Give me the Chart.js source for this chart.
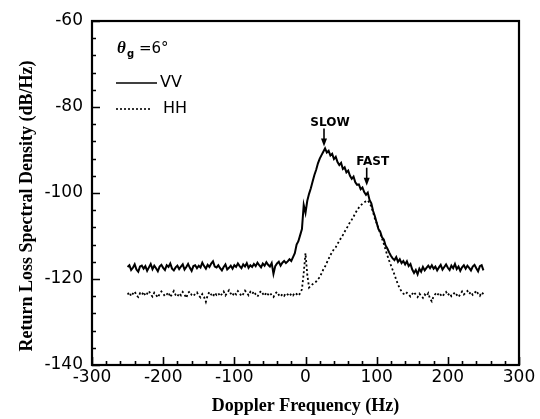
<!DOCTYPE html>
<html><head><meta charset="utf-8">
<script src="https://cdn.jsdelivr.net/npm/chart.js@4.4.0/dist/chart.umd.min.js"></script>
<style>html,body{margin:0;padding:0;background:#fff;}#wrap{width:540px;height:419px;}</style>
</head><body><div id="wrap"><canvas id="c" width="540" height="419"></canvas></div>
<script>
// Doppler frequency grid (Hz): first bin and bin spacing
const freqStart = -250;
const freqStep = 2.5;

// VV return loss spectral density (dB/Hz), one value per bin from -250 to 250 Hz
const vvDensity = [
-117.2,-116.8,-117.9,-117.4,-116.6,-117.8,-118.3,-117.1,-116.9,-117.6,
-117.0,-118.1,-117.3,-116.5,-117.7,-116.9,-117.5,-118.2,-117.1,-116.7,
-117.4,-117.9,-116.8,-117.2,-116.4,-117.6,-118.0,-117.3,-116.9,-117.7,
-117.1,-116.6,-117.8,-117.2,-116.5,-117.4,-118.1,-117.0,-116.8,-117.5,
-116.9,-117.3,-116.2,-117.0,-117.6,-116.7,-117.2,-116.4,-115.9,-117.1,
-117.3,-116.8,-117.5,-118.0,-117.2,-116.6,-117.8,-117.4,-116.9,-117.6,
-116.8,-117.2,-116.4,-117.0,-117.5,-116.6,-117.1,-116.3,-117.4,-116.8,
-117.2,-116.5,-117.0,-116.2,-116.8,-117.3,-116.4,-116.9,-116.1,-116.7,
-117.1,-116.3,-118.8,-117.0,-116.4,-116.0,-116.9,-116.2,-115.8,-116.3,
-115.9,-115.4,-115.8,-114.9,-114.0,-112.0,-111.2,-109.8,-108.4,-102.8,
-104.6,-101.8,-100.2,-98.9,-97.3,-95.8,-94.6,-93.1,-92.0,-91.2,
-90.4,-89.6,-90.6,-90.2,-91.3,-90.9,-92.1,-91.6,-92.8,-93.5,
-93.0,-94.4,-94.0,-95.2,-94.8,-96.0,-96.7,-96.2,-97.5,-98.1,
-98.0,-99.1,-98.7,-99.8,-100.4,-99.9,-101.6,-102.4,-104.2,-105.4,
-106.9,-108.4,-109.0,-110.3,-110.8,-112.2,-112.9,-113.8,-114.6,-115.2,
-115.6,-114.9,-116.0,-115.4,-116.3,-115.8,-116.6,-115.9,-117.0,-116.5,
-117.8,-118.6,-117.9,-118.9,-117.6,-118.3,-117.2,-118.0,-117.4,-116.9,
-117.5,-116.8,-117.6,-117.1,-118.0,-117.3,-116.7,-117.8,-117.2,-116.6,
-117.4,-117.9,-116.9,-117.5,-116.5,-117.7,-117.1,-118.1,-117.3,-116.8,
-117.6,-116.9,-117.4,-118.0,-117.1,-116.7,-117.5,-118.2,-117.0,-116.8,
-118.0
];

// HH return loss spectral density (dB/Hz), same bins
const hhDensity = [
-123.6,-123.1,-124.0,-123.4,-122.9,-123.8,-124.2,-123.3,-123.7,-123.0,
-123.9,-123.4,-122.8,-123.6,-124.1,-123.2,-123.7,-124.3,-123.5,-122.9,
-123.4,-124.0,-123.6,-123.1,-124.2,-123.5,-122.8,-123.7,-124.1,-123.3,
-123.8,-123.0,-123.6,-124.4,-123.2,-122.9,-123.7,-124.0,-123.4,-123.1,
-123.9,-124.3,-123.5,-124.2,-125.3,-123.8,-123.0,-123.6,-124.1,-123.2,
-123.7,-123.3,-124.0,-123.5,-122.9,-123.8,-123.2,-122.6,-123.4,-123.9,
-123.1,-123.6,-122.8,-123.3,-124.0,-123.5,-122.7,-123.2,-123.8,-123.0,
-123.5,-122.9,-123.6,-124.1,-123.3,-122.8,-123.4,-123.9,-123.1,-123.6,
-123.2,-123.8,-124.2,-123.4,-123.0,-123.7,-124.1,-123.5,-123.9,-123.3,
-123.6,-124.0,-123.4,-123.8,-123.2,-123.5,-123.9,-123.3,-122.4,-118.6,
-114.0,-119.0,-122.0,-121.6,-121.2,-120.9,-120.6,-120.0,-119.6,-118.7,
-117.8,-117.1,-116.2,-115.3,-114.4,-113.8,-113.0,-112.6,-111.8,-111.2,
-110.4,-109.8,-109.0,-108.3,-107.6,-106.8,-106.2,-105.5,-104.7,-104.0,
-103.4,-102.9,-102.5,-102.2,-101.9,-101.7,-102.3,-103.2,-104.5,-106.0,
-107.0,-108.2,-109.4,-110.6,-111.8,-113.2,-114.5,-115.7,-116.8,-117.9,
-119.0,-120.2,-121.3,-122.2,-122.9,-123.4,-123.7,-123.2,-123.6,-124.1,
-123.5,-123.0,-123.7,-124.2,-123.4,-123.9,-124.4,-123.6,-124.0,-123.3,
-124.6,-125.2,-124.0,-123.5,-123.9,-123.2,-123.7,-124.1,-123.4,-123.0,
-123.8,-123.3,-124.0,-123.6,-123.1,-123.7,-124.2,-123.5,-122.9,-123.6,
-123.2,-122.8,-123.5,-123.0,-123.7,-123.3,-122.7,-123.4,-123.9,-123.1,
-123.5
];

const seriesNames = ['VV', 'HH'];
const xTicks = [-300, -200, -100, 0, 100, 200, 300];
const yTicks = [-140, -120, -100, -80, -60];
const peakLabels = ['SLOW', 'FAST'];
const peakFreq = [26, 86];
const peakLevel = [-89.2, -98.3];

const toPoints = arr => arr.map((v, i) => ({ x: freqStart + i * freqStep, y: v }));

const SANS = '"DejaVu Sans", Arial, sans-serif';
const SERIF = '"Liberation Serif", "Times New Roman", serif';

const framePlugin = {
  id: 'frame',
  afterDraw(chart) {
    const { ctx, chartArea: a, scales: { x, y } } = chart;
    ctx.save();
    ctx.strokeStyle = '#000';
    ctx.lineWidth = 2.2;
    ctx.strokeRect(a.left, a.top, a.right - a.left, a.bottom - a.top);
    ctx.lineWidth = 1.6;
    ctx.beginPath();
    for (let v = x.min; v <= x.max; v += 20) {
      const px = Math.round(x.getPixelForValue(v)) + 0.5;
      const len = (v % 100 === 0) ? 8 : 4;
      ctx.moveTo(px, a.bottom); ctx.lineTo(px, a.bottom - len);
    }
    for (let v = y.min; v <= y.max; v += 4) {
      const py = Math.round(y.getPixelForValue(v)) + 0.5;
      const len = (v % 20 === 0) ? 8 : 4;
      ctx.moveTo(a.left, py); ctx.lineTo(a.left + len, py);
    }
    ctx.stroke();

    // y-axis title
    ctx.fillStyle = '#000';
    ctx.font = 'bold 18px ' + SERIF;
    ctx.textAlign = 'center';
    ctx.textBaseline = 'middle';
    ctx.translate(27, 206);
    ctx.rotate(-Math.PI / 2);
    ctx.fillText('Return Loss Spectral Density (dB/Hz)', 0, 0);
    ctx.restore();

    // legend block
    ctx.save();
    ctx.fillStyle = '#000';
    ctx.strokeStyle = '#000';
    const lx = a.left + 24;
    ctx.textBaseline = 'alphabetic';
    ctx.textAlign = 'left';
    ctx.font = 'bold italic 17px ' + SERIF;
    ctx.fillText('\u03B8', lx + 1, a.top + 32);
    ctx.font = 'bold 10px ' + SANS;
    ctx.fillText('g', lx + 11, a.top + 36);
    ctx.font = '15px ' + SANS;
    ctx.fillText('=6\u00B0', lx + 23, a.top + 32);

    ctx.textBaseline = 'middle';
    ctx.font = '16px ' + SANS;
    ctx.lineWidth = 1.6;
    ctx.beginPath();
    ctx.moveTo(lx, a.top + 62); ctx.lineTo(lx + 41, a.top + 62);
    ctx.stroke();
    ctx.fillText(seriesNames[0], lx + 44, a.top + 62);
    ctx.setLineDash([2, 2]);
    ctx.beginPath();
    ctx.moveTo(lx, a.top + 88); ctx.lineTo(lx + 36, a.top + 88);
    ctx.stroke();
    ctx.setLineDash([]);
    ctx.fillText(seriesNames[1], lx + 47, a.top + 88);

    // peak annotations
    ctx.font = 'bold 12px ' + SANS;
    ctx.textAlign = 'center';
    for (let i = 0; i < peakLabels.length; i++) {
      const tx = x.getPixelForValue(peakFreq[i]);
      const ty = y.getPixelForValue(peakLevel[i]);
      ctx.fillText(peakLabels[i], tx + 6, ty - 24);
      ctx.lineWidth = 1.6;
      ctx.beginPath();
      ctx.moveTo(tx, ty - 18); ctx.lineTo(tx, ty - 6);
      ctx.stroke();
      ctx.beginPath();
      ctx.moveTo(tx - 3, ty - 8); ctx.lineTo(tx + 3, ty - 8); ctx.lineTo(tx, ty);
      ctx.closePath();
      ctx.fill();
    }
    ctx.restore();
  }
};

new Chart(document.getElementById('c'), {
  type: 'line',
  data: {
    datasets: [
      { label: seriesNames[0], data: toPoints(vvDensity), borderColor: '#000', borderWidth: 2, pointRadius: 0, tension: 0, fill: false },
      { label: seriesNames[1], data: toPoints(hhDensity), borderColor: '#000', borderWidth: 1.8, borderDash: [2, 2.5], pointRadius: 0, tension: 0, fill: false }
    ]
  },
  options: {
    responsive: false,
    animation: false,
    devicePixelRatio: 1,
    layout: { padding: { left: 0, top: 21, right: 21, bottom: 0 } },
    plugins: { legend: { display: false }, tooltip: { enabled: false } },
    scales: {
      x: {
        type: 'linear', min: -300, max: 300,
        afterBuildTicks: s => { s.ticks = xTicks.map(v => ({ value: v })); },
        afterFit: s => { s.height = 54; },
        ticks: { color: '#000', font: { family: SANS, size: 17 }, padding: 2, maxRotation: 0, autoSkip: false },
        grid: { display: false, drawTicks: false },
        border: { display: false },
        title: { display: true, text: 'Doppler Frequency (Hz)', color: '#000', font: { family: SERIF, size: 18, weight: 'bold' }, padding: { top: 0, bottom: 2 } }
      },
      y: {
        type: 'linear', min: -140, max: -60,
        afterBuildTicks: s => { s.ticks = yTicks.map(v => ({ value: v })); },
        afterFit: s => { s.width = 92; },
        ticks: { color: '#000', font: { family: SANS, size: 17 }, padding: 9, autoSkip: false },
        grid: { display: false, drawTicks: false },
        border: { display: false }
      }
    }
  },
  plugins: [framePlugin]
});
</script>
</body></html>
